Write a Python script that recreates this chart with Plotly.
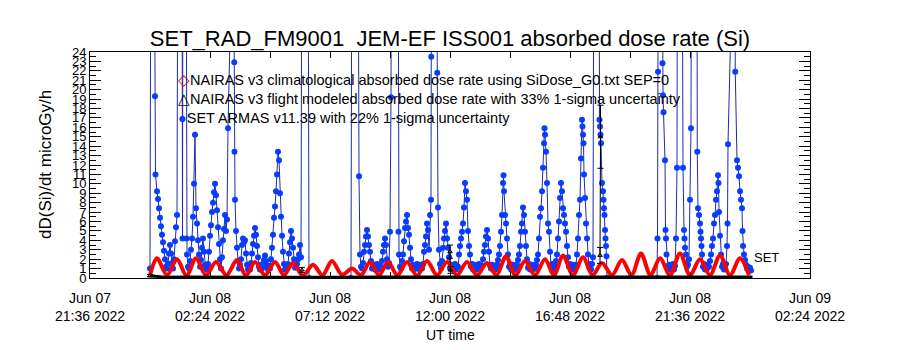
import pandas as pd
import plotly.graph_objects as go

# ---------------- text ----------------
title_text = "SET_RAD_FM9001\u00a0\u00a0JEM-EF ISS001 absorbed dose rate (Si)"
y_title = "dD(Si)/dt microGy/h"
x_title = "UT time"
legend_texts = [
    "NAIRAS v3 climatological absorbed dose rate using SiDose_G0.txt SEP=0",
    "NAIRAS v3 flight modeled absorbed dose rate with 33% 1-sigma uncertainty",
    "SET ARMAS v11.39 with 22% 1-sigma uncertainty",
]
end_label = "SET"

# ---------------- axes ----------------
x_start = "2022-06-07 21:36"
x_end = "2022-06-09 02:24"
tick_times = ["2022-06-07 21:36", "2022-06-07 24:00", "2022-06-08 02:24", "2022-06-08 04:48",
              "2022-06-08 07:12", "2022-06-08 09:36", "2022-06-08 12:00", "2022-06-08 14:24",
              "2022-06-08 16:48", "2022-06-08 19:12", "2022-06-08 21:36", "2022-06-08 24:00",
              "2022-06-09 02:24"]
tick_labels = ["Jun 07<br>21:36 2022", "", "Jun 08<br>02:24 2022", "", "Jun 08<br>07:12 2022", "",
               "Jun 08<br>12:00 2022", "", "Jun 08<br>16:48 2022", "", "Jun 08<br>21:36 2022", "",
               "Jun 09<br>02:24 2022"]
y_min, y_max = 0, 24
data_start = "2022-06-08 00:00"   # hours below are counted from here

# ---------------- NAIRAS climatological (red), (hour, dose rate) ----------------
red_samples = [
    (0.00, 0.30), (0.28, 2.1), (0.68, 0.30), (1.08, 2.0), (1.46, 0.25), (1.84, 2.1), (2.24, 0.30),
    (2.64, 1.7), (3.06, 0.30), (3.48, 1.9), (3.84, 0.25), (4.20, 1.7), (4.60, 0.30), (5.00, 1.7),
    (5.36, 0.30), (5.72, 1.6), (6.12, 0.25), (6.52, 1.4), (6.90, 0.30), (7.28, 1.8), (7.68, 0.35),
    (8.08, 1.0), (8.44, 0.30), (8.80, 1.7), (9.16, 0.30), (9.52, 1.7), (9.90, 0.30), (10.28, 1.7),
    (10.68, 0.25), (11.08, 1.8), (11.48, 0.30), (11.88, 1.7), (12.28, 0.30), (12.68, 1.7),
    (13.08, 0.30), (13.48, 1.6), (13.86, 0.30), (14.24, 2.3), (14.62, 0.30), (15.00, 1.8),
    (15.40, 0.30), (15.80, 2.0), (16.16, 0.30), (16.52, 2.4), (16.92, 0.30), (17.32, 2.2),
    (17.70, 0.30), (18.08, 1.6), (18.48, 0.30), (18.88, 1.9), (19.26, 0.30), (19.64, 2.6),
    (20.02, 0.30), (20.40, 2.1), (20.80, 0.30), (21.20, 2.6), (21.60, 0.30), (22.00, 2.0),
    (22.40, 0.30), (22.80, 2.4), (23.20, 0.30), (23.60, 2.1), (23.96, 0.30),
]

# ---------------- NAIRAS flight modeled (black), (hour, value, 1-sigma) ----------------
black_samples = [
    (0.00, 0.25, 0.12), (0.60, 0.08, 0), (1.50, 0.10, 0), (3.00, 0.08, 0), (4.50, 0.10, 0),
    (6.00, 0.10, 0), (6.08, 0.85, 0.28), (6.16, 0.10, 0), (7.50, 0.08, 0), (9.00, 0.10, 0),
    (10.50, 0.10, 0), (11.98, 0.10, 0), (12.00, 2.8, 0.70), (12.02, 0.85, 0.35), (12.06, 0.10, 0),
    (13.50, 0.10, 0), (15.00, 0.08, 0), (16.50, 0.10, 0), (17.98, 0.10, 0), (18.00, 2.4, 0.85),
    (18.02, 15.0, 3.35), (18.06, 0.10, 0), (19.50, 0.10, 0), (21.00, 0.08, 0), (22.50, 0.10, 0),
    (24.10, 0.10, 0),
]

# ---------------- SET ARMAS (blue), (hour, dose rate); 45 = off scale ----------------
blue_samples = [
    (0.00, 1.0), (0.04, 45), (0.16, 45), (0.20, 19.3), (0.22, 11.0), (0.28, 9.2), (0.32, 8.4),
    (0.36, 7.4), (0.40, 6.4), (0.44, 5.5), (0.48, 4.6), (0.52, 3.8), (0.56, 2.9), (0.60, 2.0),
    (0.64, 1.2), (0.68, 1.0), (0.72, 1.5), (0.76, 2.6), (0.80, 3.5), (0.84, 2.6), (0.88, 1.6),
    (0.92, 1.0), (0.96, 2.0), (1.00, 3.9), (1.04, 5.4), (1.08, 6.7), (1.12, 45), (1.28, 45),
    (1.30, 4.2), (1.32, 45), (1.44, 45), (1.46, 4.2), (1.48, 2.5), (1.52, 1.2),
    (1.56, 1.0), (1.60, 1.8), (1.64, 3.0), (1.68, 4.2), (1.72, 6.5), (1.76, 10.0), (1.80, 15.2),
    (1.84, 7.4), (1.88, 5.8), (1.92, 4.0), (1.96, 2.5), (2.00, 1.2),
    (2.04, 1.9), (2.08, 3.2), (2.12, 4.2), (2.16, 2.8), (2.20, 1.4), (2.24, 0.9), (2.28, 1.3),
    (2.32, 1.5), (2.36, 2.8), (2.40, 4.5), (2.44, 5.6), (2.48, 7.0), (2.52, 8.0), (2.56, 9.1),
    (2.60, 10.0), (2.64, 8.8), (2.68, 7.2), (2.72, 5.4), (2.76, 3.6), (2.80, 2.0), (2.84, 1.0),
    (2.88, 2.2), (2.92, 4.0), (2.96, 5.2), (3.00, 6.7), (3.04, 5.0), (3.08, 6.2), (3.12, 15.9),
    (3.20, 45), (3.36, 45), (3.37, 22.9), (3.38, 13.4), (3.40, 8.3), (3.44, 5.0), (3.48, 3.2),
    (3.52, 1.8), (3.56, 1.0), (3.60, 1.4),
    (3.64, 2.0), (3.68, 3.5), (3.72, 4.2), (3.76, 3.8), (3.80, 4.0), (3.84, 2.6), (3.88, 1.4),
    (3.92, 0.9), (3.96, 1.3), (4.00, 0.9),
    (4.04, 1.6), (4.08, 2.6), (4.12, 3.6), (4.16, 4.5), (4.20, 5.3), (4.24, 4.6), (4.28, 3.4),
    (4.32, 2.2), (4.36, 1.2), (4.40, 0.9), (4.44, 1.4), (4.48, 1.0), (4.52, 1.5), (4.56, 1.9),
    (4.60, 2.4), (4.64, 1.8), (4.68, 1.2), (4.72, 0.9), (4.76, 1.3),
    (4.80, 1.0), (4.84, 2.0), (4.88, 3.2), (4.92, 4.6), (4.96, 6.4), (5.00, 7.6), (5.04, 9.2),
    (5.08, 11.0), (5.12, 13.4), (5.16, 12.5), (5.20, 9.0), (5.24, 6.5), (5.28, 4.5), (5.32, 2.8),
    (5.36, 1.5), (5.40, 0.9), (5.44, 1.4), (5.48, 1.0),
    (5.52, 1.5), (5.56, 2.6), (5.60, 3.8), (5.64, 5.0), (5.68, 4.2), (5.72, 3.2), (5.76, 2.0),
    (5.80, 1.1), (5.84, 1.4), (5.88, 1.5), (5.92, 2.0), (5.96, 2.5), (6.00, 3.5), (6.04, 2.2),
    (6.08, 45), (6.32, 45), (6.36, 0.0), (8.04, 0.0),
    (8.08, 45), (8.32, 45), (8.36, 10.8), (8.40, 2.5), (8.44, 1.2), (8.48, 1.0),
    (8.52, 1.6), (8.56, 2.8), (8.60, 3.5), (8.64, 4.4), (8.68, 5.1), (8.72, 4.4), (8.76, 3.5),
    (8.80, 2.8), (8.84, 1.8), (8.88, 1.0), (8.92, 1.3), (8.96, 1.4), (9.00, 0.9), (9.04, 1.2),
    (9.08, 1.5), (9.12, 1.0), (9.16, 1.3), (9.20, 0.9),
    (9.24, 1.2), (9.28, 1.8), (9.32, 2.8), (9.36, 3.5), (9.40, 4.2), (9.44, 3.5), (9.48, 2.0),
    (9.52, 1.2), (9.56, 1.6),
    (9.60, 4.9), (9.64, 19.2), (9.66, 45), (9.92, 45), (9.94, 4.9), (9.96, 2.5), (10.00, 1.2),
    (10.04, 1.0),
    (10.08, 1.8), (10.12, 2.5), (10.16, 3.9), (10.20, 5.3), (10.24, 6.0), (10.28, 6.7), (10.32, 5.3),
    (10.36, 4.6), (10.40, 3.2), (10.44, 2.0), (10.48, 1.0), (10.52, 1.4), (10.56, 0.9), (10.60, 1.3),
    (10.64, 1.0), (10.68, 1.5), (10.72, 1.0), (10.76, 1.4), (10.80, 0.9), (10.84, 1.2), (10.88, 1.0),
    (10.92, 1.5), (10.96, 2.8), (11.00, 3.5), (11.04, 4.4), (11.08, 5.8), (11.12, 5.1), (11.16, 3.0),
    (11.20, 6.7), (11.24, 8.3), (11.25, 23.5), (11.26, 45), (11.48, 45), (11.49, 21.8), (11.52, 7.5),
    (11.56, 3.0), (11.60, 1.5), (11.64, 1.0),
    (11.68, 1.8), (11.72, 3.2), (11.76, 4.2), (11.80, 5.0), (11.84, 5.8), (11.88, 4.2), (11.92, 3.2),
    (11.96, 2.2), (12.00, 1.0), (12.04, 1.4), (12.08, 0.9), (12.12, 1.3), (12.16, 1.0), (12.20, 1.5),
    (12.24, 0.9), (12.28, 1.3),
    (12.32, 1.2), (12.36, 2.5), (12.40, 3.4), (12.44, 4.2), (12.48, 4.9), (12.52, 5.8), (12.56, 7.5),
    (12.60, 10.1), (12.64, 9.2), (12.68, 8.3), (12.72, 5.0), (12.76, 3.4), (12.80, 2.5), (12.84, 1.2),
    (12.88, 1.5), (12.92, 0.9), (12.96, 1.0), (13.00, 1.4), (13.04, 0.9), (13.08, 1.3), (13.12, 1.0),
    (13.16, 1.5), (13.20, 0.9), (13.24, 1.2),
    (13.28, 1.3), (13.32, 2.0), (13.36, 2.8), (13.40, 3.5), (13.44, 4.4), (13.48, 5.1), (13.52, 4.2),
    (13.56, 2.8), (13.60, 1.3), (13.64, 1.0), (13.68, 1.4), (13.72, 1.0), (13.76, 1.3), (13.80, 0.9),
    (13.84, 1.2),
    (13.88, 1.4), (13.92, 1.9), (13.96, 2.5), (14.00, 3.4), (14.04, 4.9), (14.08, 6.7), (14.12, 10.1),
    (14.14, 10.9), (14.16, 9.2), (14.20, 6.7), (14.24, 5.8), (14.28, 4.2), (14.32, 2.5), (14.36, 1.2),
    (14.40, 1.5), (14.44, 0.9), (14.48, 1.0), (14.52, 1.4), (14.56, 0.9), (14.60, 1.3), (14.64, 1.0),
    (14.68, 1.4), (14.72, 1.9), (14.76, 2.5), (14.80, 3.4), (14.84, 4.9), (14.88, 5.8), (14.92, 7.5),
    (14.96, 6.7), (15.00, 4.9), (15.04, 3.4), (15.08, 2.0), (15.12, 1.1), (15.16, 1.5), (15.20, 0.9),
    (15.24, 1.0), (15.28, 1.4), (15.32, 0.9), (15.36, 1.3), (15.40, 1.0),
    (15.44, 1.4), (15.48, 1.9), (15.52, 2.5), (15.56, 4.2), (15.60, 6.5), (15.64, 7.4), (15.68, 9.2),
    (15.72, 11.7), (15.76, 14.3), (15.78, 15.9), (15.80, 15.2), (15.84, 13.4), (15.88, 10.1),
    (15.92, 5.8), (15.96, 4.9), (16.00, 2.8), (16.04, 1.2), (16.08, 1.5), (16.12, 0.9), (16.16, 1.2),
    (16.20, 1.3), (16.24, 1.8), (16.28, 2.5), (16.32, 4.2), (16.36, 6.0), (16.40, 8.5), (16.44, 10.1),
    (16.48, 9.2), (16.52, 7.4), (16.56, 6.7), (16.60, 5.8), (16.64, 4.9), (16.68, 3.4), (16.72, 2.2),
    (16.76, 1.2), (16.80, 1.5), (16.84, 0.9), (16.88, 1.0), (16.92, 1.4), (16.96, 0.9), (17.00, 1.2),
    (17.04, 1.4), (17.08, 2.5), (17.12, 4.2), (17.16, 6.7), (17.20, 8.3), (17.24, 12.7), (17.28, 16.8),
    (17.30, 16.1), (17.32, 15.2), (17.34, 14.3), (17.36, 11.0), (17.40, 8.5), (17.44, 5.8),
    (17.48, 4.2), (17.52, 2.5), (17.56, 1.2), (17.60, 1.5), (17.64, 0.9),
    (17.68, 1.5), (17.72, 2.2), (17.76, 45), (17.96, 45), (17.98, 16.8), (18.00, 16.1), (18.02, 15.2),
    (18.04, 14.3), (18.08, 10.1), (18.12, 9.2), (18.14, 8.3), (18.16, 7.4), (18.18, 6.7), (18.20, 5.1),
    (18.22, 4.2), (18.24, 3.4), (18.26, 2.3), (18.28, 0.0), (20.28, 0.0),
    (20.30, 4.2), (20.32, 21.9), (20.34, 45), (20.48, 45), (20.50, 22.8), (20.52, 19.4), (20.54, 17.6),
    (20.60, 12.5), (20.62, 5.1), (20.64, 4.2), (20.66, 2.5), (20.72, 1.0), (20.76, 1.4), (20.80, 0.9),
    (20.84, 1.3), (20.88, 1.0), (20.92, 1.5), (20.96, 0.9),
    (21.00, 1.3), (21.04, 4.2), (21.08, 11.7), (21.10, 45), (21.28, 45), (21.32, 11.7), (21.36, 5.1),
    (21.38, 4.2), (21.40, 3.2), (21.44, 2.5), (21.48, 1.2), (21.52, 1.4),
    (21.56, 2.0), (21.60, 8.3), (21.64, 15.9), (21.66, 45), (21.88, 45), (21.89, 13.4), (21.92, 7.4),
    (21.96, 6.7), (22.00, 5.8), (22.02, 4.9), (22.04, 4.2), (22.06, 3.4), (22.08, 2.5), (22.12, 1.2),
    (22.16, 1.5), (22.20, 0.9), (22.24, 1.3), (22.28, 1.0), (22.32, 1.4),
    (22.36, 1.2), (22.40, 1.8), (22.44, 2.5), (22.48, 3.4), (22.52, 4.2), (22.56, 5.8), (22.60, 6.7),
    (22.64, 8.3), (22.68, 9.2), (22.72, 10.9), (22.74, 10.1), (22.76, 7.0), (22.80, 4.5), (22.84, 2.5),
    (22.88, 1.2), (22.92, 1.5), (22.96, 0.9), (23.00, 1.3),
    (23.04, 1.5), (23.08, 3.4), (23.10, 5.8), (23.12, 14.2), (23.14, 45), (23.40, 45), (23.41, 21.9),
    (23.48, 12.5), (23.52, 11.7), (23.56, 10.8), (23.60, 9.2), (23.64, 8.3), (23.68, 7.4), (23.70, 5.0),
    (23.72, 3.4), (23.76, 2.5), (23.80, 1.9), (23.84, 1.4), (23.88, 1.0), (23.92, 1.2), (23.96, 0.9),
    (24.00, 1.1), (24.04, 0.8),
]

# ---------------- build ----------------
t0 = pd.Timestamp(data_start)


def to_time(hours):
    return [t0 + pd.to_timedelta(h, unit="h") for h in hours]


FONT = "Liberation Sans, Arial, sans-serif"

fig = go.Figure()

fig.add_trace(go.Scatter(
    x=to_time([s[0] for s in blue_samples]), y=[s[1] for s in blue_samples],
    mode="lines+markers", line=dict(color="#1c2ca8", width=1),
    marker=dict(color="#0a3cff", size=6, symbol="circle", line=dict(width=0)),
    showlegend=False, cliponaxis=True))

fig.add_trace(go.Scatter(
    x=to_time([s[0] for s in red_samples]), y=[s[1] for s in red_samples],
    mode="lines", line=dict(color="#ff0000", width=4, shape="spline", smoothing=0.9),
    showlegend=False, cliponaxis=True))

# black: thick baseline from the near-zero samples
base = [s for s in black_samples if s[2] == 0 or s[1] < 0.3]
fig.add_trace(go.Scatter(
    x=to_time([s[0] for s in base]), y=[s[1] for s in base],
    mode="lines", line=dict(color="#000000", width=3),
    showlegend=False, cliponaxis=True))

# black: samples with uncertainty bars, thin connectors within each group
ex, ey, ee = [], [], []
prev = None
for h, v, e in black_samples:
    if e == 0:
        continue
    if prev is not None and h - prev > 0.2:
        ex.append(None)
        ey.append(None)
        ee.append(None)
    ex.append(t0 + pd.to_timedelta(h, unit="h"))
    ey.append(v)
    ee.append(e)
    prev = h
fig.add_trace(go.Scatter(
    x=ex, y=ey, mode="lines+markers", line=dict(color="#000000", width=1),
    marker=dict(symbol="triangle-up-open", size=4, color="#000000"),
    error_y=dict(type="data", array=ee, color="#000000", thickness=1, width=3, visible=True),
    showlegend=False, cliponaxis=True, connectgaps=False))

W, H = 900, 350
L, R, T, B = 90, 90, 52, 72


def px_x(px):
    return (px - L) / (W - L - R)


def px_y(py):
    return (H - B - py) / (H - T - B)


annotations = []
legend_colors = ["#e00000", "#000000", "#0a3cff"]
legend_syms = ["\u25c7", "\u25b3", "\u25cf"]
legend_rows = [80, 99, 118]
for txt, col, sym, row in zip(legend_texts, legend_colors, legend_syms, legend_rows):
    annotations.append(dict(
        x=px_x(176), y=px_y(row), xref="paper", yref="paper", xanchor="left", yanchor="middle",
        text=f'<span style="color:{col}">{sym}</span>{txt}', showarrow=False,
        font=dict(family=FONT, size=14.5, color="black")))

annotations.append(dict(x=px_x(752), y=px_y(257), xref="paper", yref="paper", xanchor="left",
                        yanchor="middle", text=end_label, showarrow=False,
                        font=dict(family=FONT, size=13, color="black")))
annotations.append(dict(x=px_x(45), y=px_y(165), xref="paper", yref="paper", xanchor="center",
                        yanchor="middle", text=y_title, textangle=-90, showarrow=False,
                        font=dict(family=FONT, size=17, color="black")))
annotations.append(dict(x=0.5, y=px_y(335), xref="paper", yref="paper", xanchor="center",
                        yanchor="middle", text=x_title, showarrow=False,
                        font=dict(family=FONT, size=14, color="black")))

fig.update_layout(
    width=W, height=H, margin=dict(l=L, r=R, t=T, b=B, pad=0),
    paper_bgcolor="white", plot_bgcolor="white",
    title=dict(text=title_text, x=0.5, xanchor="center", y=1 - 38 / H, yanchor="middle",
               font=dict(family=FONT, size=22, color="black")),
    annotations=annotations,
    showlegend=False,
)

fig.update_xaxes(
    type="date", range=[x_start, x_end], tickmode="array",
    tickvals=tick_times, ticktext=tick_labels, ticks="inside", ticklen=6, tickcolor="black",
    showline=True, linecolor="black", linewidth=1, mirror="ticks", showgrid=False, zeroline=False,
    tickfont=dict(family=FONT, size=14, color="black"), ticklabelstandoff=7)

fig.update_yaxes(
    range=[y_min, y_max], tickmode="linear", tick0=0, dtick=1, ticks="inside", ticklen=11,
    tickcolor="black", showline=True, linecolor="black", linewidth=1, mirror="ticks",
    showgrid=False, zeroline=False, tickfont=dict(family=FONT, size=13, color="black"),
    minor=dict(ticks="inside", ticklen=6, dtick=0.5, tickcolor="black", showgrid=False))

fig.write_html("out.html")
